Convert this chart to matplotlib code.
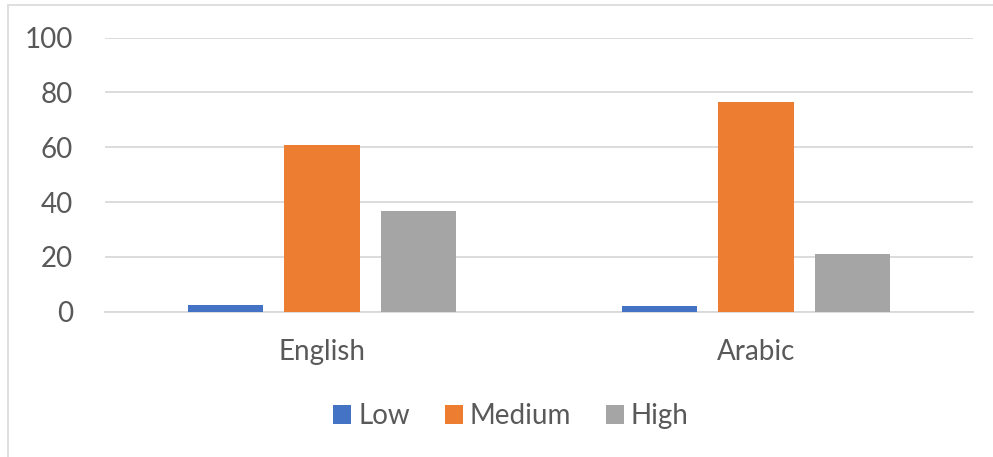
import matplotlib
matplotlib.use("Agg")
import matplotlib.pyplot as plt
from matplotlib.patches import Rectangle
import numpy as np

categories = ["English", "Arabic"]
series_names = ["Low", "Medium", "High"]
low_values = [2.4, 2.1]
medium_values = [60.8, 76.4]
high_values = [36.6, 21.1]
yticks = [0, 20, 40, 60, 80, 100]

colors = ["#4472C4", "#ED7D31", "#A5A5A5"]
text_color = "#595959"
grid_color = "#D9D9D9"

plt.rcParams["font.family"] = ["Lato", "DejaVu Sans"]

fig = plt.figure(figsize=(9.93, 4.57), dpi=100)
ax = fig.add_axes([105 / 993, 1 - 311.7 / 457, 868 / 993, (311.7 - 37.7) / 457])

x = np.arange(len(categories))
bar_w = 0.173
offset = 0.222
for i, (name, vals) in enumerate(zip(series_names, [low_values, medium_values, high_values])):
    ax.bar(x + (i - 1) * offset, vals, width=bar_w, color=colors[i], label=name, zorder=3)

ax.set_xlim(-0.5, len(categories) - 0.5)
ax.set_ylim(0, 100)
ax.set_yticks(yticks)
ax.set_xticks(x)
ax.set_xticklabels(categories)
ax.tick_params(axis="both", length=0, colors=text_color, labelsize=20)
ax.tick_params(axis="y", pad=23)
ax.tick_params(axis="x", pad=20)
ax.grid(axis="y", color=grid_color, linewidth=1.3, zorder=0)
for side in ["top", "right", "left"]:
    ax.spines[side].set_visible(False)
ax.spines["bottom"].set_color(grid_color)
ax.spines["bottom"].set_linewidth(1.3)

leg = fig.legend(loc="center", bbox_to_anchor=(511 / 993, 1 - 416 / 457), ncol=3,
                 frameon=False, fontsize=20, handlelength=0.65, handleheight=0.65,
                 handletextpad=0.25, columnspacing=1.25, labelcolor=text_color)

# chart area outline
fig.patches.append(Rectangle((8 / 993, -0.1), 1.1, 1 - 5 / 457 + 0.1,
                             transform=fig.transFigure, fill=False,
                             edgecolor="#D9D9D9", linewidth=1.2))

fig.savefig("out.png", dpi=100)
